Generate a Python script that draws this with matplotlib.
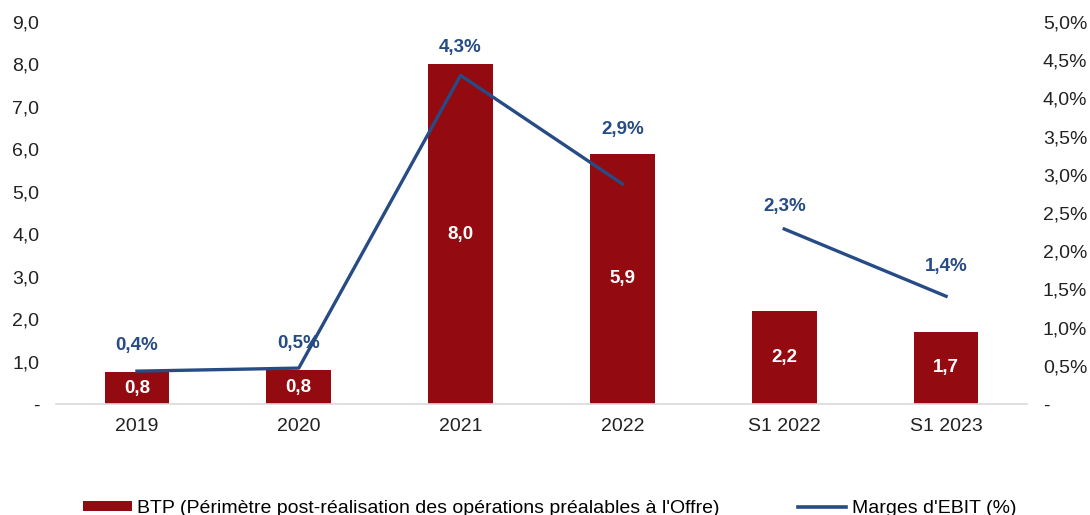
import matplotlib
matplotlib.use("Agg")
import matplotlib.pyplot as plt
import numpy as np
from matplotlib.patches import Patch
from matplotlib.lines import Line2D

plt.rcParams['font.family'] = ['Liberation Sans', 'DejaVu Sans']

categories = ["2019", "2020", "2021", "2022", "S1 2022", "S1 2023"]
btp_values = [0.75, 0.80, 8.0, 5.9, 2.2, 1.7]
btp_labels = ["0,8", "0,8", "8,0", "5,9", "2,2", "1,7"]
ebit_margin = [0.43, 0.47, 4.3, 2.88, 2.29, 1.41]
ebit_labels = ["0,4%", "0,5%", "4,3%", "2,9%", "2,3%", "1,4%"]
left_ticks = [0, 1, 2, 3, 4, 5, 6, 7, 8, 9]
left_ticklabels = ["-", "1,0", "2,0", "3,0", "4,0", "5,0", "6,0", "7,0", "8,0", "9,0"]
right_ticks = [0, 0.5, 1, 1.5, 2, 2.5, 3, 3.5, 4, 4.5, 5]
right_ticklabels = ["-", "0,5%", "1,0%", "1,5%", "2,0%", "2,5%", "3,0%", "3,5%", "4,0%", "4,5%", "5,0%"]

bar_color = "#930a10"
line_color = "#264b85"

fig = plt.figure(figsize=(10.9, 5.15), dpi=100)
ax = fig.add_axes([0.0514, 0.2155, 0.8908, 0.742])
ax2 = ax.twinx()

x = np.arange(len(categories))
ax.bar(x, btp_values, width=0.4, color=bar_color, zorder=2)
for xi, v, lab in zip(x, btp_values, btp_labels):
    ax.text(xi, v / 2, lab, ha="center", va="center", color="white",
            fontsize=13.5, fontweight="bold", zorder=3)

ax.set_xlim(-0.5, len(categories) - 0.5)
ax.set_ylim(0, 9)
ax.set_yticks(left_ticks)
ax.set_yticklabels(left_ticklabels)
ax.set_xticks(x)
ax.set_xticklabels(categories)
ax.tick_params(axis="both", length=0, labelsize=14, colors="#222222")
ax.tick_params(axis="x", pad=10)
ax.tick_params(axis="y", pad=12)
for s in ["top", "left", "right"]:
    ax.spines[s].set_visible(False)
ax.spines["bottom"].set_color("#d9d9d9")
ax.spines["bottom"].set_linewidth(1.2)

ax2.set_ylim(0, 5)
ax2.set_yticks(right_ticks)
ax2.set_yticklabels(right_ticklabels)
ax2.tick_params(axis="y", length=0, labelsize=14, colors="#222222", pad=11.5)
for s in ["top", "left", "right", "bottom"]:
    ax2.spines[s].set_visible(False)

# annual series and half-year series drawn as separate segments
ax2.plot(x[:4], ebit_margin[:4], color=line_color, lw=2.4, zorder=4)
ax2.plot(x[4:], ebit_margin[4:], color=line_color, lw=2.4, zorder=4)

offsets = [18.7, 17.5, 20, 39, 16.5, 21.6]
for xi, v, lab, off in zip(x, ebit_margin, ebit_labels, offsets):
    ax2.annotate(lab, (xi, v), xytext=(0, off), textcoords="offset points",
                 ha="center", va="center", color=line_color, fontsize=13.5,
                 fontweight="bold")

handles = [Patch(facecolor=bar_color, edgecolor="none"),
           Line2D([0], [0], color=line_color, lw=2.6)]
labels = ["BTP (Périmètre post-réalisation des opérations préalables à l'Offre)",
          "Marges d'EBIT (%)"]
fig.legend(handles, labels, loc="center left", bbox_to_anchor=(0.069, 0.0135),
           borderaxespad=0, ncol=2, frameon=False, fontsize=14,
           handlelength=2.5, handletextpad=0.3, columnspacing=4.0,
           handleheight=0.4)

fig.savefig("out.png", dpi=100)
